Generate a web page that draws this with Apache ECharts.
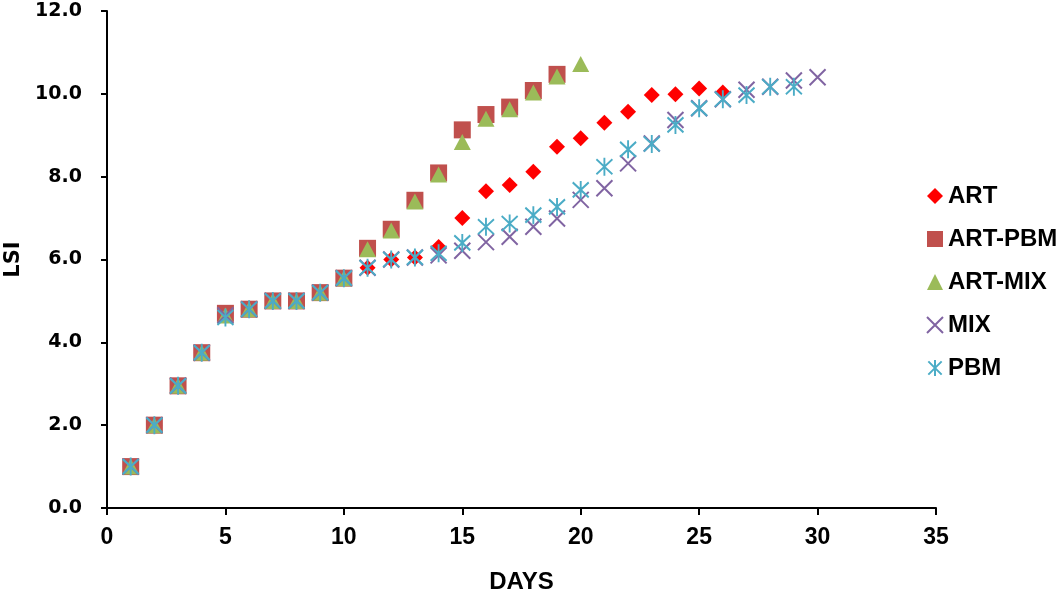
<!DOCTYPE html>
<html>
<head>
<meta charset="utf-8">
<script src="https://cdn.jsdelivr.net/npm/echarts@6/dist/echarts.min.js"></script>
<style>
html,body{margin:0;padding:0;background:#fff;}
#chart{width:1064px;height:596px;}
</style>
</head>
<body>
<div id="chart"></div>
<script>
const days = [1,2,3,4,5,6,7,8,9,10,11,12,13,14,15,16,17,18,19,20,21,22,23,24,25,26,27,28,29,30];
const seriesNames = ['ART','ART-PBM','ART-MIX','MIX','PBM'];
const artValues = [1.0,2.0,2.95,3.75,4.7,4.8,5.0,5.0,5.2,5.55,5.8,6.0,6.05,6.3,7.0,7.65,7.8,8.12,8.72,8.93,9.3,9.57,9.97,9.99,10.13,10.03];
const artPbmValues = [1.0,2.0,2.95,3.75,4.7,4.8,5.0,5.0,5.2,5.55,6.27,6.73,7.43,8.09,9.13,9.5,9.68,10.08,10.47];
const artMixValues = [1.0,2.0,2.95,3.75,4.65,4.8,5.0,5.0,5.2,5.55,6.25,6.7,7.4,8.05,8.84,9.4,9.63,10.03,10.42,10.72];
const mixValues = [1.0,2.0,2.95,3.75,4.65,4.8,5.0,5.0,5.2,5.55,5.8,6.0,6.05,6.1,6.21,6.42,6.55,6.79,6.99,7.44,7.72,8.32,8.8,9.37,9.65,9.87,10.1,10.17,10.32,10.4];
const pbmValues = [1.0,2.0,2.95,3.75,4.6,4.8,5.0,5.0,5.2,5.55,5.8,6.0,6.05,6.15,6.4,6.79,6.87,7.07,7.27,7.68,8.24,8.66,8.79,9.25,9.65,9.87,9.97,10.17,10.17];
const yTickLabels = ['0.0','2.0','4.0','6.0','8.0','10.0','12.0'];

function pairs(vals){ return vals.map((v,i)=>[days[i], v]); }

const X_PATH = 'path://M0,0L10,10M10,0L0,10';
const STAR_PATH = 'path://M0,0L10,10M10,0L0,10M5,-1L5,11';

const chart = echarts.init(document.getElementById('chart'), null, {renderer:'canvas'});
const option = {
  backgroundColor:'#ffffff',
  animation:false,
  grid:{left:107, right:128, top:11, bottom:88, containLabel:false, outerBoundsMode:'none'},
  legend:{
    orient:'vertical', left:921, top:179, itemGap:19, itemWidth:16, itemHeight:16,
    textStyle:{fontFamily:'Liberation Sans', fontWeight:'bold', fontSize:24, color:'#000'},
    data: seriesNames
  },
  xAxis:{
    type:'value', min:0, max:35, interval:5,
    name:'DAYS', nameLocation:'middle', nameGap:62,
    nameTextStyle:{fontFamily:'Liberation Sans', fontWeight:'bold', fontSize:24, color:'#000'},
    axisLine:{show:true, onZero:false, lineStyle:{color:'#000', width:2}},
    axisTick:{show:true, length:7, lineStyle:{color:'#000', width:2}},
    axisLabel:{fontFamily:'Liberation Sans', fontWeight:'bold', fontSize:23, color:'#000', margin:18},
    splitLine:{show:false}
  },
  yAxis:{
    type:'value', min:0, max:12, interval:2,
    name:'LSI', nameLocation:'middle', nameGap:77, nameRotate:90,
    nameTextStyle:{fontFamily:'DejaVu Sans', fontWeight:'bold', fontSize:21, color:'#000'},
    axisLine:{show:true, lineStyle:{color:'#000', width:2}},
    axisTick:{show:true, length:6, lineStyle:{color:'#000', width:2}},
    axisLabel:{fontFamily:'DejaVu Sans', fontWeight:'bold', fontSize:19, color:'#000', margin:25,
      formatter:(v)=>yTickLabels[Math.round(v/2)] },
    splitLine:{show:false}
  },
  series:[
    {name:'ART', type:'scatter', symbol:'diamond', symbolSize:[16,16], data:pairs(artValues),
      itemStyle:{color:'#FF0000', opacity:1}},
    {name:'ART-PBM', type:'scatter', symbol:'rect', symbolSize:17, data:pairs(artPbmValues),
      itemStyle:{color:'#C0504D', opacity:1}},
    {name:'ART-MIX', type:'scatter', symbol:'triangle', symbolSize:[17,16], data:pairs(artMixValues),
      itemStyle:{color:'#9BBB59', opacity:1}},
    {name:'MIX', type:'scatter', symbol:X_PATH, symbolSize:16, data:pairs(mixValues),
      itemStyle:{color:'rgba(0,0,0,0)', borderColor:'#8064A2', borderWidth:2, opacity:1}},
    {name:'PBM', type:'scatter', symbol:STAR_PATH, symbolSize:[16,18], data:pairs(pbmValues),
      itemStyle:{color:'rgba(0,0,0,0)', borderColor:'#4BACC6', borderWidth:2, opacity:1}}
  ]
};
chart.setOption(option);
</script>
</body>
</html>
